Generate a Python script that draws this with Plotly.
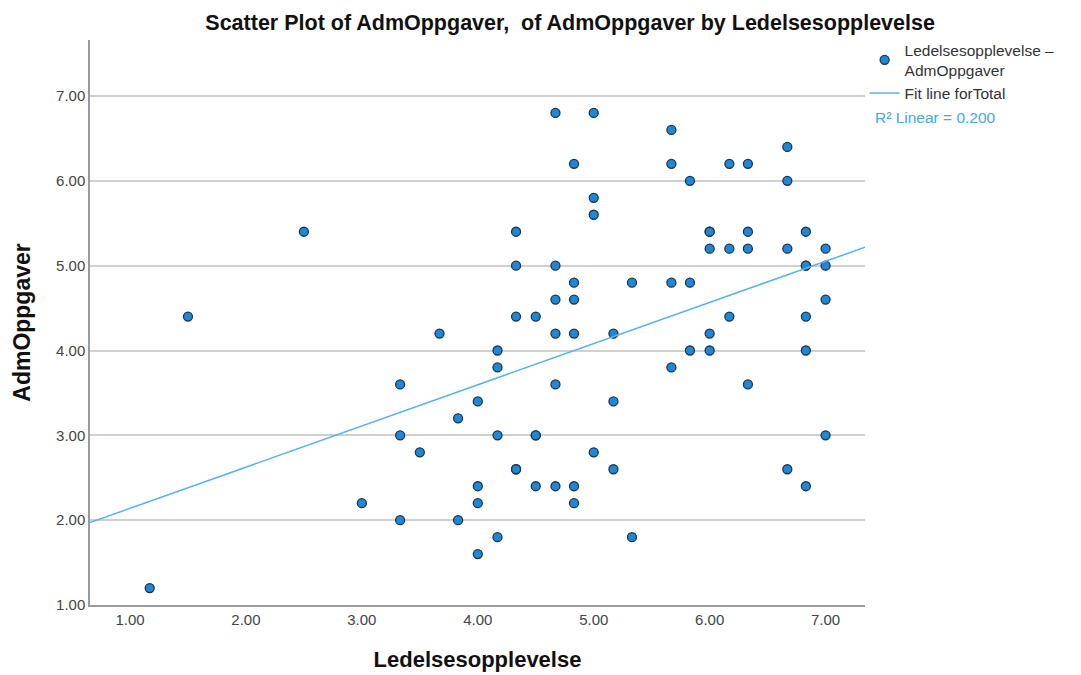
import numpy as np
import plotly.graph_objects as go

# Ledelsesopplevelse (x) and AdmOppgaver (y) values
ledelse = [
    1.17, 1.5, 2.5, 3.0,
    3.33, 3.33, 3.33, 3.5, 3.67, 3.83, 3.83,
    4.0, 4.0, 4.0, 4.0,
    4.17, 4.17, 4.17, 4.17,
    4.33, 4.33, 4.33, 4.33, 4.33,
    4.5, 4.5, 4.5, 4.5,
    4.67, 4.67, 4.67, 4.67, 4.67, 4.67,
    4.83, 4.83, 4.83, 4.83, 4.83, 4.83,
    5.0, 5.0, 5.0, 5.0,
    5.17, 5.17, 5.17,
    5.33, 5.33,
    5.67, 5.67, 5.67, 5.67,
    5.83, 5.83, 5.83,
    6.0, 6.0, 6.0, 6.0, 6.0,
    6.17, 6.17, 6.17,
    6.33, 6.33, 6.33, 6.33,
    6.67, 6.67, 6.67, 6.67,
    6.83, 6.83, 6.83, 6.83, 6.83, 6.83,
    7.0, 7.0, 7.0, 7.0,
]
admoppgaver = [
    1.2, 4.4, 5.4, 2.2,
    3.6, 3.0, 2.0, 2.8, 4.2, 3.2, 2.0,
    3.4, 2.4, 2.2, 1.6,
    4.0, 3.8, 3.0, 1.8,
    5.4, 5.0, 4.4, 2.6, 2.6,
    4.4, 3.0, 3.0, 2.4,
    6.8, 5.0, 4.6, 4.2, 3.6, 2.4,
    6.2, 4.8, 4.6, 4.2, 2.4, 2.2,
    6.8, 5.8, 5.6, 2.8,
    4.2, 3.4, 2.6,
    4.8, 1.8,
    6.6, 6.2, 4.8, 3.8,
    6.0, 4.8, 4.0,
    5.4, 5.4, 5.2, 4.2, 4.0,
    6.2, 5.2, 4.4,
    6.2, 5.4, 5.2, 3.6,
    6.4, 6.0, 5.2, 2.6,
    5.4, 5.0, 5.0, 4.4, 4.0, 2.4,
    5.2, 5.0, 4.6, 3.0,
]
x_ticks = [1, 2, 3, 4, 5, 6, 7]
y_ticks = [1, 2, 3, 4, 5, 6, 7]
x_range = [0.655, 7.34]
y_range = [1.0, 7.66]
r2_label = "R² Linear = 0.200"

slope, intercept = np.polyfit(ledelse, admoppgaver, 1)
fit_x = np.array(x_range)
fit_y = intercept + slope * fit_x

fig = go.Figure()
fig.add_trace(go.Scatter(
    x=ledelse, y=admoppgaver, mode="markers",
    name="Ledelsesopplevelse –<br>AdmOppgaver",
    marker=dict(size=9, color="#1e88d6", line=dict(color="#1b3550", width=1.3)),
    cliponaxis=False,
))
fig.add_trace(go.Scatter(
    x=fit_x, y=fit_y, mode="lines", name="Fit line forTotal",
    line=dict(color="#5ab2e8", width=1.5),
))

font_fam = "Liberation Sans, Arial, sans-serif"
fig.update_layout(
    width=1081, height=675,
    paper_bgcolor="white", plot_bgcolor="white",
    margin=dict(l=82, r=224, t=32, b=78),
    font=dict(family=font_fam, color="#333333"),
    title=dict(
        text="<b>Scatter Plot of AdmOppgaver,  of AdmOppgaver by Ledelsesopplevelse</b>",
        x=0.52, xanchor="center", y=0.979, yanchor="middle",
        font=dict(size=21.5, color="#111111", family=font_fam),
    ),
    xaxis=dict(
        range=x_range, tickvals=x_ticks, tickformat=".2f",
        showgrid=False, zeroline=False,
        showline=True, linecolor="#9a9a9a", linewidth=1.5,
        ticks="", tickfont=dict(size=15, color="#444444"),
        title=dict(text="<b>Ledelsesopplevelse</b>", font=dict(size=22, color="#111111"), standoff=25),
    ),
    yaxis=dict(
        range=y_range, tickvals=y_ticks, tickformat=".2f",
        showgrid=True, gridcolor="#d0d0d0", gridwidth=1.5, zeroline=False,
        showline=True, linecolor="#9a9a9a", linewidth=1.5,
        ticks="", tickfont=dict(size=15, color="#444444"),
        title=dict(text="<b>AdmOppgaver</b>", font=dict(size=23, color="#111111"), standoff=19),
    ),
    legend=dict(
        x=0.9995, xanchor="left", y=1.012, yanchor="top",
        font=dict(size=15.5, color="#333333"),
        bgcolor="rgba(0,0,0,0)", itemwidth=30, tracegroupgap=0,
    ),
    annotations=[dict(
        text=r2_label, xref="paper", yref="paper", x=1.0103, y=0.862,
        xanchor="left", yanchor="middle", showarrow=False,
        font=dict(size=15.5, color="#4aa6e0", family=font_fam),
    )],
)

fig.write_html("out.html")
